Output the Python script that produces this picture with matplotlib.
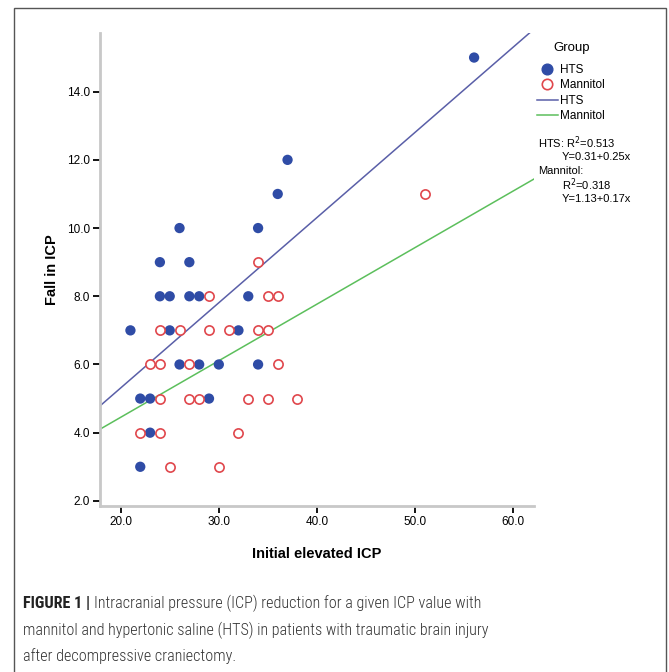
import numpy as np
import matplotlib
matplotlib.use("Agg")
import matplotlib.pyplot as plt
from matplotlib.lines import Line2D
from matplotlib.patches import Rectangle

plt.rcParams['font.family'] = ['Liberation Sans', 'DejaVu Sans']

# data
hts_x = [21, 22, 22, 23, 23, 24, 24, 25, 25, 26, 26, 27, 27, 28, 28, 29, 30, 32, 33, 34, 34, 36, 37, 56]
hts_y = [7, 5, 3, 5, 4, 9, 8, 8, 7, 10, 6, 9, 8, 8, 6, 5, 6, 7, 8, 10, 6, 11, 12, 15]
man_x = [22, 23, 24, 24, 24, 24, 25, 26, 27, 27, 28, 29, 29, 30, 31, 32, 33, 34, 34, 35, 35, 35, 36, 36, 38, 51]
man_y = [4, 6, 7, 6, 5, 4, 3, 7, 6, 5, 5, 8, 7, 3, 7, 4, 5, 9, 7, 8, 7, 5, 8, 6, 5, 11]

# fit lines (intercept, slope)
hts_fit = (0.31, 0.25)
man_fit = (1.13, 0.166)

xticks = [20, 30, 40, 50, 60]
yticks = [2, 4, 6, 8, 10, 12, 14]

blue = '#2f4ca6'
red = '#e0474c'
line_blue = '#5a5fa8'
line_green = '#5cbf5c'
sans = ['Liberation Sans', 'DejaVu Sans']
cap_font = ['Roboto Condensed', 'Liberation Sans Narrow', 'Roboto', 'DejaVu Sans']

fig = plt.figure(figsize=(6.69, 6.72), dpi=100)

# outer frame
fig.patches.append(Rectangle((14 / 669, -0.01), 652 / 669, 1 - 8 / 672 + 0.01,
                             transform=fig.transFigure, fill=False,
                             edgecolor='#555555', linewidth=1.0))

ax = fig.add_axes([100 / 669, 166 / 672, 434 / 669, 473 / 672])
xlim = (17.9, 62.1)
ax.set_xlim(*xlim)
ax.set_ylim(1.85, 15.72)

xs = np.array(xlim)
ax.plot(xs, hts_fit[0] + hts_fit[1] * xs, color=line_blue, lw=1.1, zorder=2)
ax.plot(xs, man_fit[0] + man_fit[1] * xs, color=line_green, lw=1.1, zorder=2)

ax.scatter(hts_x, hts_y, s=55, color=blue, edgecolors='none', zorder=3)
ax.scatter(man_x, man_y, s=44, facecolors='white', edgecolors=red, linewidths=1.2, zorder=3)

for side in ['top', 'right']:
    ax.spines[side].set_visible(False)
for side in ['left', 'bottom']:
    ax.spines[side].set_color('#c8c8c8')
    ax.spines[side].set_linewidth(2)

ax.set_xticks(xticks)
ax.set_xticklabels(['%.1f' % v for v in xticks], family=sans)
ax.set_yticks(yticks)
ax.set_yticklabels(['%.1f' % v for v in yticks], family=sans)
ax.tick_params(axis='both', length=5, width=1.3, color='black', labelsize=8.5, pad=2)

ax.set_xlabel('Initial elevated ICP', fontsize=10.5, fontweight='bold', family=sans, labelpad=14)
ax.set_ylabel('Fall in ICP', fontsize=10.5, fontweight='bold', family=sans, labelpad=6)

fig.text(553 / 669, 1 - 48 / 672, 'Group', fontsize=9.5, family=sans, va='center', ha='left')
handles = [
    Line2D([], [], marker='o', ls='none', color=blue, markersize=7.7),
    Line2D([], [], marker='o', ls='none', markerfacecolor='white', markeredgecolor=red,
           markeredgewidth=1.2, markersize=7.5),
    Line2D([], [], color=line_blue, lw=1.1),
    Line2D([], [], color=line_green, lw=1.1),
]
leg = fig.legend(handles, ['HTS', 'Mannitol', 'HTS', 'Mannitol'],
                 loc='upper left', bbox_to_anchor=(532 / 669, 1 - 59 / 672),
                 frameon=False, prop={'family': sans, 'size': 8.5}, handlelength=1.8,
                 handletextpad=0.2, labelspacing=0.3, borderaxespad=0)

ann = [
    (538, 143, 'HTS: R$^2$=0.513'),
    (562, 157, 'Y=0.31+0.25x'),
    (538, 171, 'Mannitol:'),
    (562, 185, 'R$^2$=0.318'),
    (562, 199, 'Y=1.13+0.17x'),
]
for x, y, s in ann:
    fig.text(x / 669, 1 - y / 672, s, fontsize=8, family=sans, va='center', ha='left')

# caption
t = fig.text(23 / 669, 1 - 603 / 672, 'FIGURE 1 |', fontsize=11.6, fontweight='bold',
             family=cap_font, va='center', color='#222222')
r = fig.canvas.get_renderer()
bb = t.get_window_extent(renderer=r)
fig.text((bb.x1 + 4) / 669, 1 - 603 / 672,
         'Intracranial pressure (ICP) reduction for a given ICP value with',
         fontsize=11.6, family=cap_font, fontweight='light', va='center', color='#333333')
fig.text(23 / 669, 1 - 630 / 672,
         'mannitol and hypertonic saline (HTS) in patients with traumatic brain injury',
         fontsize=11.6, family=cap_font, fontweight='light', va='center', color='#333333')
fig.text(23 / 669, 1 - 656 / 672, 'after decompressive craniectomy.',
         fontsize=11.6, family=cap_font, fontweight='light', va='center', color='#333333')

fig.savefig('out.png', dpi=100)
